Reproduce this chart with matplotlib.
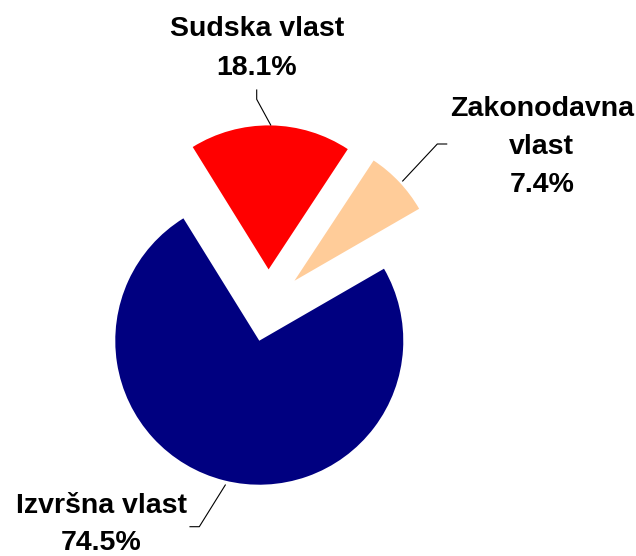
import matplotlib
matplotlib.use("Agg")
import matplotlib.pyplot as plt

# ---- data ----
categories = ["Izvršna vlast", "Sudska vlast", "Zakonodavna vlast"]
values = [74.5, 18.1, 7.4]
colors = ["#000080", "#FF0000", "#FFCC99"]
label_lines = [["Izvršna vlast"], ["Sudska vlast"], ["Zakonodavna", "vlast"]]

W, H = 636, 556
fig = plt.figure(figsize=(W / 100, H / 100), dpi=100)
ax = fig.add_axes([0, 0, 1, 1])

def py(y):  # pixel-from-top -> data y
    return H - y

center = (268.1, py(305.6))
R = 144
explode_px = 36.2  # matplotlib explode is in data units
ax.pie(values, colors=colors, startangle=30, counterclock=False,
       explode=[explode_px] * 3, radius=R, center=center,
       wedgeprops=dict(linewidth=0))

ax.set_xlim(0, W)
ax.set_ylim(0, H)
ax.set_aspect("equal")
ax.axis("off")

font = dict(family=["Liberation Sans", "DejaVu Sans"], weight="bold",
            fontsize=20.5, color="black", ha="center", va="baseline")

# label layout (x center, first baseline, line spacing) in pixels
label_pos = [(101, 513, 36.5), (257, 36, 39), (541.7, 116, 38)]
for lines, v, (x, y0, dy) in zip(label_lines, values, label_pos):
    all_lines = lines + [f"{v:.1f}%"]
    for i, t in enumerate(all_lines):
        ax.text(x, py(y0 + i * dy), t, **font)

# leader lines (pixels)
leaders = [
    [(225.3, 485), (199.3, 526.7), (190, 526.7)],
    [(270.7, 125), (256.7, 99.3), (256.7, 90)],
    [(402.7, 181), (437.3, 144), (446.7, 144)],
]
for pts in leaders:
    xs = [p[0] for p in pts]
    ys = [py(p[1]) for p in pts]
    ax.plot(xs, ys, color="black", linewidth=0.8)

fig.savefig("out.png", dpi=100)
